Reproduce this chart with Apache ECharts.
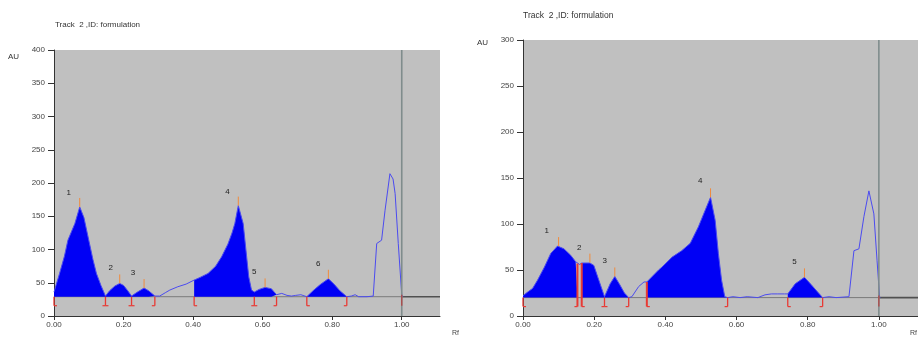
<!DOCTYPE html>
<html>
<head>
<meta charset="utf-8">
<script src="https://cdn.jsdelivr.net/npm/echarts@6/dist/echarts.min.js"></script>
<style>
  html, body { margin: 0; padding: 0; background: #fff; }
  #chart { width: 918px; height: 337px; }
</style>
</head>
<body>
<div id="chart"></div>
<script>
// 左图: Rf / AU
const leftRf = [0.000, 0.016, 0.030, 0.040, 0.060, 0.074, 0.086, 0.100, 0.112, 0.122, 0.135, 0.148,
  0.160, 0.175, 0.189, 0.200, 0.212, 0.223, 0.240, 0.259, 0.272, 0.290, 0.304, 0.320, 0.333, 0.356,
  0.380, 0.403, 0.420, 0.443, 0.465, 0.482, 0.500, 0.512, 0.520, 0.530, 0.544, 0.554, 0.560, 0.568,
  0.576, 0.590, 0.607, 0.625, 0.640, 0.655, 0.670, 0.683, 0.695, 0.710, 0.727, 0.745, 0.765, 0.789,
  0.805, 0.822, 0.842, 0.855, 0.866, 0.876, 0.900, 0.918, 0.928, 0.942, 0.952, 0.966, 0.975, 0.981,
  0.990, 1.000, 1.003]
const leftAU = [36, 64, 90, 114, 139, 164, 148, 114, 85, 64, 46, 30,
  38, 45, 49, 46, 38, 30, 36, 42, 38, 30, 30, 35, 39, 44,
  48, 54, 58, 64, 75, 89, 108, 125, 139, 166, 139, 89, 59, 39,
  36, 40, 43, 41, 32, 34, 31, 30, 31, 32, 29, 38, 47, 56,
  48, 38, 29, 30, 32, 29, 29, 30, 109, 114, 159, 214, 206, 184,
  109, 32, 29]
const leftBase = 29
const leftFill = [[0, 0.290], [0.403, 0.640], [0.727, 0.842]]
// 积分边界: [Rf, 顶部AU, 类型 -1=[ 0=双 1=] 2=终点]
const leftBounds = [[0, 29, -1], [0.148, 29, 0], [0.223, 29, 0], [0.290, 29, 1], [0.403, 29, -1],
  [0.576, 29, 0], [0.640, 29, 1], [0.727, 29, -1], [0.842, 29, 1], [1.0, 29, 2]]
const leftTops = [[0.074, 164], [0.189, 49], [0.259, 42], [0.530, 166], [0.607, 43], [0.789, 56]]
const leftLabels = [[0.042, 186, 1], [0.163, 73, 2], [0.227, 65, 3], [0.499, 187, 4], [0.576, 66, 5], [0.760, 78, 6]]

// 右图
const rightRf = [0.000, 0.013, 0.027, 0.041, 0.060, 0.078, 0.097, 0.115, 0.134, 0.148, 0.153, 0.159,
  0.165, 0.180, 0.188, 0.199, 0.213, 0.229, 0.245, 0.258, 0.272, 0.285, 0.297, 0.306, 0.325, 0.340,
  0.348, 0.353, 0.381, 0.390, 0.419, 0.446, 0.470, 0.493, 0.512, 0.527, 0.540, 0.549, 0.558, 0.567,
  0.575, 0.590, 0.610, 0.630, 0.660, 0.680, 0.698, 0.716, 0.735, 0.744, 0.765, 0.791, 0.810, 0.828,
  0.842, 0.860, 0.880, 0.916, 0.930, 0.944, 0.958, 0.972, 0.986, 0.995, 1.002, 1.004]
const rightAU = [22, 26, 30, 39, 53, 68, 76, 73, 66, 59, 57, 56,
  57.6, 57.6, 57.6, 55, 39, 21, 35, 43, 34, 25, 20, 21, 32, 37,
  37, 39, 50, 53, 64, 71, 79, 97, 115, 129, 104, 68, 39, 21,
  20, 21, 20, 21, 20, 23, 24, 24, 24, 24, 35, 42, 34, 26,
  20, 21, 20, 21, 71, 73, 108, 136, 111, 60, 21, 20]
const rightBase = 20
const rightFill = [[0, 0.153], [0.165, 0.297], [0.348, 0.575], [0.744, 0.842]]
const rightBounds = [[0, 20, -1], [0.153, 57, 1], [0.165, 57.6, -1], [0.229, 20, 0], [0.297, 20, 1],
  [0.348, 37, -1], [0.575, 20, 1], [0.744, 20, -1], [0.842, 20, 1], [1.0, 20, 2]]
const rightTops = [[0.100, 76], [0.188, 58], [0.258, 43], [0.527, 129], [0.791, 42]]
const rightLabels = [[0.067, 93, 1], [0.158, 74, 2], [0.230, 60, 3], [0.498, 147, 4], [0.763, 59, 5]]

const xTicks = [0, 0.2, 0.4, 0.6, 0.8, 1.0]
const xMax = 1.11
const font = 'Liberation Sans, Arial, sans-serif'

const chart = echarts.init(document.getElementById('chart'))

const pairs = (xs, ys) => xs.map((x, i) => [x, ys[i]])
const fillData = (xs, ys, ranges) =>
  xs.map((x, i) => {
    const inside = ranges.some(([a, b]) => x >= a - 1e-9 && x <= b + 1e-9)
    return [x, inside ? ys[i] : '-']
  })

// 边界标记
const boundSeries = (idx, base, data) => ({
  type: 'custom', xAxisIndex: idx, yAxisIndex: idx, z: 6, silent: true,
  data: data,
  renderItem: (params, api) => {
    const x = api.value(0)
    const kind = api.value(2)
    const pt = api.coord([x, api.value(1)])
    const pb = api.coord([x, base])
    const yb = pb[1] + 9
    const tall = pb[1] - pt[1] > 3
    const st = {stroke: kind === 2 ? '#b04848' : '#e83a34', lineWidth: tall ? 2 : 1.3}
    const foot = {stroke: st.stroke, lineWidth: 1.2}
    const kids = [{type: 'line', shape: {x1: pt[0], y1: kind === 2 ? pb[1] - 2 : pt[1], x2: pt[0], y2: yb}, style: st}]
    if (kind === -1 || kind === 0) kids.push({type: 'line', shape: {x1: pt[0], y1: yb, x2: pt[0] + 3, y2: yb}, style: foot})
    if (kind === 1 || kind === 0) kids.push({type: 'line', shape: {x1: pt[0] - 3, y1: yb, x2: pt[0], y2: yb}, style: foot})
    return {type: 'group', children: kids}
  },
})

// 峰顶标记
const topSeries = (idx, data) => ({
  type: 'custom', xAxisIndex: idx, yAxisIndex: idx, z: 6, silent: true,
  data: data,
  renderItem: (params, api) => {
    const p = api.coord([api.value(0), api.value(1)])
    return {type: 'line', shape: {x1: p[0], y1: p[1], x2: p[0], y2: p[1] - 9}, style: {stroke: '#f08a3c', lineWidth: 1}}
  },
})

const labelSeries = (idx, data) => ({
  type: 'custom', xAxisIndex: idx, yAxisIndex: idx, z: 7, silent: true,
  data: data,
  renderItem: (params, api) => {
    const p = api.coord([api.value(0), api.value(1)])
    return {type: 'text', x: p[0], y: p[1], style: {text: String(api.value(2)), fill: '#222', font: '8px ' + font, align: 'center', verticalAlign: 'middle'}}
  },
})

const lineSeries = (idx, data, color, width, z) => ({
  type: 'line', xAxisIndex: idx, yAxisIndex: idx, data: data, z: z, silent: true,
  showSymbol: false, symbol: 'none', animation: false, clip: true,
  lineStyle: {color: color, width: width},
})

const makeSeries = (idx, xs, ys, base, ranges, bounds, tops, labels, yMax) => [
  lineSeries(idx, [[0, base], [1.0, base]], '#7a7a7a', 1, 1),
  lineSeries(idx, [[1.0, base], [xMax, base]], '#505050', 1.6, 1),
  {
    type: 'line', xAxisIndex: idx, yAxisIndex: idx, z: 2, silent: true,
    data: fillData(xs, ys, ranges), connectNulls: false,
    showSymbol: false, symbol: 'none',
    lineStyle: {width: 0},
    areaStyle: {color: '#0000f5', opacity: 1, origin: base},
  },
  lineSeries(idx, pairs(xs, ys), '#4b4bf0', 1, 3),
  lineSeries(idx, [[1.0, 0], [1.0, yMax]], '#7f8c8c', 1.6, 4),
  boundSeries(idx, base, bounds),
  topSeries(idx, tops),
  labelSeries(idx, labels),
]

const xAxisOpt = (idx) => ({
  type: 'value', gridIndex: idx, min: 0, max: xMax,
  axisLine: {show: true, onZero: false, lineStyle: {color: '#333', width: 1}},
  axisTick: {show: true, length: 4, customValues: xTicks, lineStyle: {color: '#333'}},
  axisLabel: {customValues: xTicks, formatter: (v) => v.toFixed(2), fontSize: 8, color: '#444', fontFamily: font, margin: 5},
  splitLine: {show: false},
})

const yAxisOpt = (idx, max) => ({
  type: 'value', gridIndex: idx, min: 0, max: max, interval: 50,
  axisLine: {show: true, lineStyle: {color: '#333', width: 1}},
  axisTick: {show: true, length: 6, lineStyle: {color: '#333'}},
  axisLabel: {fontSize: 8, color: '#444', fontFamily: font, margin: 9},
  splitLine: {show: false},
})

chart.setOption({
  animation: false,
  backgroundColor: '#ffffff',
  grid: [
    {left: 54, top: 50, right: 478, bottom: 21, show: true, backgroundColor: '#c0c0c0', borderWidth: 0},
    {left: 523, top: 40, right: -3, bottom: 21, show: true, backgroundColor: '#c0c0c0', borderWidth: 0},
  ],
  xAxis: [xAxisOpt(0), xAxisOpt(1)],
  yAxis: [yAxisOpt(0, 400), yAxisOpt(1, 300)],
  graphic: [
    {type: 'text', left: 55, top: 21, style: {text: 'Track  2 ,ID: formulation', fill: '#333', font: '8px ' + font}},
    {type: 'text', left: 523, top: 11, style: {text: 'Track  2 ,ID: formulation', fill: '#333', font: '8.5px ' + font}},
    {type: 'text', left: 8, top: 53, style: {text: 'AU', fill: '#333', font: '8px ' + font}},
    {type: 'text', left: 477, top: 39, style: {text: 'AU', fill: '#333', font: '8px ' + font}},
    {type: 'text', left: 452, top: 330, style: {text: 'Rf', fill: '#444', font: '7px ' + font}},
    {type: 'text', left: 910, top: 330, style: {text: 'Rf', fill: '#444', font: '7px ' + font}},
  ],
  series: [
    ...makeSeries(0, leftRf, leftAU, leftBase, leftFill, leftBounds, leftTops, leftLabels, 400),
    ...makeSeries(1, rightRf, rightAU, rightBase, rightFill, rightBounds, rightTops, rightLabels, 300),
  ],
})
</script>
</body>
</html>
